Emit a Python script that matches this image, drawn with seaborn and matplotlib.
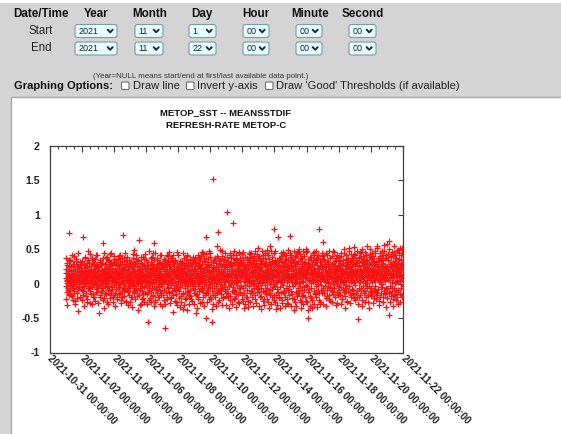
import numpy as np
import pandas as pd
import matplotlib
matplotlib.use("Agg")
import matplotlib.pyplot as plt
import matplotlib.dates as mdates
from matplotlib.patches import Rectangle, FancyBboxPatch
import seaborn as sns

# ---------------- data (values in hundredths, one list per day, two passes) ----------------
first_day = "2021-11-01"
x_start = "2021-10-31"
x_end = "2021-11-22"
y_ticks = [-1, -0.5, 0, 0.5, 1, 1.5, 2]
y_tick_labels = ["-1", "-0.5", "0", "0.5", "1", "1.5", "2"]

d00 = [8, -3, 15, 22, 1, -12, 30, 5, 11, -7, 18, 73, 2, 26, -15, 9, 4, 35, -9, 13, 20, -2, 7, 41, -18, 12, 3, 25, -6, 16, 0, 10, 28, -11, 6, 19, -25, 14, 2, 33, -4, 8, 21, -14, 11, 45, 5, -8, -40, 17, 24, -1, 9, 31, -20, 13, 4, 27, -5, 15]
d01 = [5, 12, -9, 20, 68, 3, -16, 27, 10, -4, 14, 38, -1, 7, 23, -13, 18, 2, 9, -22, 30, 6, 15, -7, 11, 47, -3, 19, 1, 25, -10, 8, 16, -28, 4, 21, 13, -5, 34, 0, 10, 17, -15, 6, 29, 12, -2, 22, -19, 9, 3, 36, -8, 14, 26, 1, -12, 18, 7, 42]
d02 = [11, -6, 19, -43, 8, 24, -2, 13, 31, -17, 5, 16, 0, 27, -10, 9, 20, 3, 59, -7, 14, 37, -21, 6, 12, 22, -4, 17, 2, -14, 28, 10, -1, 39, 7, 15, -26, 21, 4, 11, -9, 33, 18, -3, 8, 25, -16, 13, 1, 44, -11, 19, 6, 23, -5, 10, 30, -19, 15, 3]
d03 = [-2, 16, 9, 28, -13, 4, 21, 12, -8, 35, 1, 18, -20, 7, 26, 14, -5, 10, 40, -15, 3, 23, 11, -1, 17, 32, -24, 8, 19, 2, -10, 13, 29, 71, -6, 6, 22, -18, 15, 0, 38, 9, -3, 20, 5, -27, 12, 27, -9, 4, 16, 34, -12, 7, 24, -4, 11, 18, -16, 2]
d04 = [14, -7, 25, 3, 10, -19, 31, 8, 17, -2, 22, 5, -11, 43, 12, -4, 19, 0, 28, -23, 9, 15, 36, -8, 6, 20, -14, 2, 26, 11, -1, 33, 7, 63, -17, 13, 24, -6, 4, 18, -29, 10, 30, 1, -10, 21, 14, -3, 39, 5, 16, -21, 8, 27, -5, 12, 2, 23, -13, 9]
d05 = [6, 19, -4, 27, 11, -15, -55, 13, 2, 32, -9, 17, 8, -24, 23, 4, 14, -1, 37, 10, -12, 20, 1, 29, -6, 15, 45, -18, 7, 24, 12, -3, 59, 5, 18, -27, 9, 26, -8, 3, 16, 34, -14, 11, 21, 0, -20, 13, 30, 6, -5, 19, 41, -10, 8, 25, 2, -16, 14, 4]
d06 = [10, -3, 21, 7, 30, -17, 13, 3, 24, -9, -65, 16, 5, 35, -12, 9, 19, -1, 27, 11, -22, 14, 2, 40, -6, 18, 8, -14, 25, 4, 12, 31, -19, 6, 22, -2, 15, 38, -11, 1, -41, 17, 28, 7, -7, 20, 10, -25, 33, 3, 14, -4, 23, 9, -15, 18, 46, 0, 12, -8]
d07 = [17, 4, -10, 26, 9, 14, -5, 33, 2, 20, -18, 11, 6, 29, -2, 15, 23, -37, 8, 12, -13, 37, 1, 19, 5, -7, 24, 13, -21, 10, 30, 3, -4, 16, 42, -12, 7, 21, 0, 27, -16, 11, 18, -1, 9, 35, -9, 4, 25, 14, -23, 6, 20, 2, 31, -6, 13, 8, -14, 22]
d08 = [3, 18, -8, 25, 12, -1, -42, 9, 30, -15, 16, 6, 22, -4, 14, 39, -20, 7, 27, 1, -10, 19, 11, 34, -6, 4, 23, 15, -26, 10, 28, 2, -12, 17, 44, 8, -3, 21, 13, -17, 5, 32, 9, 68, -50, 20, 0, 26, -9, 12, 36, -13, 7, 18, 3, -22, 24, 10, -2, 15]
d09 = [12, -5, 20, 8, 27, -11, -56, 15, 4, 31, 152, -16, 10, 23, 1, -7, 18, 37, 6, -20, 13, 26, -3, 9, 40, -13, 16, 2, 75, 21, -9, 11, 29, 5, -24, 14, 33, -1, 8, 19, -15, 24, 3, 12, 47, -6, 17, 7, -19, 28, 10, -2, 22, 35, -10, 14, 4, 25, -14, 9]
d10 = [7, 104, 16, -8, 24, 11, 2, 33, -14, 19, 5, 27, -3, 13, 42, -18, 9, 21, 0, 30, -11, 15, 6, 25, 88, -5, 18, 38, -22, 10, 3, 28, 14, -9, 20, 1, 36, -15, 12, 23, -2, 8, 31, -26, 17, 5, 44, -7, 13, 26, -12, 19, 4, 34, -4, 11, 22, -17, 15, 29]
d11 = [9, 21, -6, 14, 32, -13, 4, 26, 11, -2, 18, 39, -19, 7, 23, 13, -9, 29, 2, 16, -25, 10, 35, 5, -4, 20, 12, 43, -14, 8, 27, -1, 17, 3, 31, -10, 15, 24, -20, 6, 38, 11, -7, 19, 1, 28, -16, 13, 22, 48, -3, 9, 30, -12, 17, 4, 25, -8, 14, 52]
d12 = [-4, 15, 27, 8, -12, 22, 3, 34, -7, 12, 19, -18, 10, 30, 1, 24, -10, 16, 41, 6, -22, 13, 28, -2, 9, 20, 37, -15, 5, 17, 11, -6, 26, 2, 45, -27, 14, 23, 7, -9, 31, 12, -1, 18, 54, -13, 8, 25, 3, -20, 16, 33, 10, -5, 21, 6, 29, -16, 13, 0]
d13 = [80, 11, -3, 24, 14, -16, 30, 6, 19, -8, 35, 2, 68, -12, 17, 9, 27, -21, 12, 4, 38, -5, 21, 15, -14, 7, 32, 1, 18, -24, 10, 26, -2, 13, 43, -10, 5, 22, 16, -19, 28, 8, -6, 34, 12, -28, 20, 3, 25, -11, 15, 49, 6, -4, 23, 11, -17, 69, 9, 31]
d14 = [5, 18, -10, 27, 11, 2, 36, -15, 14, 22, -4, 9, 31, -22, 16, 6, 25, -1, 13, 40, -12, 8, 20, 3, -18, 29, 12, -7, 17, 46, 1, 23, -13, 10, 33, -3, 15, 7, -26, 21, 14, 38, -9, 4, 26, 11, -16, 19, 2, 30, -5, 13, 24, -20, 8, 17, 51, -2, 10, 28]
d15 = [14, -3, 22, 8, 30, -12, -50, 17, 5, 26, -8, 12, 39, -18, 10, 20, 1, 34, -6, 15, 9, -24, 28, 3, 18, 44, -11, 7, 23, 13, -15, 31, 2, 19, -4, 11, 36, -20, 16, 6, 27, -9, 12, 41, 0, 79, 21, -14, 9, 25, 4, -27, 17, 32, -2, 14, 8, -13, 24, 11]
d16 = [60, 13, -7, 21, 10, 35, -14, 6, 18, 28, -3, 12, -21, 24, 4, 16, 42, -9, 9, 20, 1, 31, -17, 14, 7, 26, -5, 11, 38, -25, 17, 3, 23, 13, -10, 29, 8, -1, 19, 47, -15, 5, 25, 12, -6, 33, 15, -19, 10, 22, 2, 37, -12, 18, 6, -28, 27, 11, -4, 20]
d17 = [8, 24, -9, 15, 33, 3, -16, 20, 11, 40, -5, 13, 27, -22, 7, 18, 1, 30, -12, 16, 10, 45, -7, 22, 4, -18, 26, 14, 36, -2, 9, 19, -26, 12, 29, 5, -10, 23, 15, 52, -4, 8, 21, -14, 17, 31, 2, -20, 25, 11, 38, -8, 14, 6, 28, -15, 19, 3, 43, 10]
d18 = [16, -2, 25, 9, 34, -13, 12, 21, 5, -20, 30, 14, -52, 18, 39, -7, 10, 27, 3, -16, 22, 13, 46, -9, 7, 19, 31, -24, 15, 4, 26, -4, 11, 36, -14, 20, 8, 29, -11, 17, 1, 41, -19, 12, 24, 6, -6, 33, 15, -27, 21, 9, 28, -3, 13, 50, -10, 18, 5, 23]
d19 = [11, 27, -6, 17, 38, 2, -15, 22, 13, 31, -9, 8, 19, -21, 25, 5, 44, -3, 14, 29, -12, 10, 20, 55, -17, 7, 24, 16, -8, 33, 3, 21, -25, 12, 40, 6, -5, 18, 28, -13, 9, 35, 15, -1, 23, -19, 11, 30, 48, -10, 16, 4, 26, -14, 20, 37, 8, -7, 14, 58]
d20 = [13, 24, -8, 19, 35, 6, 62, -14, -46, 21, 10, 29, -4, 16, 40, -18, 12, 26, 3, -11, 22, 31, -22, 8, 18, 45, -6, 14, 27, 1, -15, 33, 11, 20, -9, 38, 5, 24, -20, 15, 49, 2, 28, -12, 17, 9, 36, -26, 13, 23, 4, 42, -7, 19, 30, -16, 11, 26, 52, -3]

e00 = [-22, 38, 4, -31, 27, 14, -9, 34, 19, -16, 6, 33, -17, 24, 0, -4, 12, -24, 29, 9, 40, -13, 21, -29, 16, 3, 36, -21, 11, 25, -8, 26, -5, 18, 7, 31, -19, 2, 1, 23]
e01 = [33, -24, 17, 6, -11, 28, -33, 9, 39, 2, -18, 24, 13, -27, 13, 35, -6, 20, -7, 30, 5, 43, -15, 26, 11, -30, 37, 15, -20, 19, 0, 32, -25, 22, 8, 41, -12, 27, -2, 18]
e02 = [-28, 26, 4, 7, -19, 35, 13, -3, 18, 20, -10, 30, -24, 4, 45, 17, -36, 28, 9, 38, -15, 23, 12, -5, 14, -30, 34, 1, 25, -21, 43, 11, -13, 31, -8, 19, 27, 6, -26, 36]
e03 = [40, -17, 22, -32, 31, 8, 17, -23, 15, 36, -8, 27, -5, 12, 42, -14, 29, 3, -28, 38, 18, -20, 10, 6, 33, -11, 24, -7, 45, 10, 28, -25, 16, 39, -4, 21, -31, 34, 13, 1]
e04 = [-26, 30, 12, 5, -20, 24, -34, 37, 5, 28, -13, 49, 19, -9, 33, 2, 41, -18, 26, 14, -38, 35, 8, 16, -9, 22, -31, 39, 17, -22, 29, 3, -15, 11, 36, -27, 25, 4, 43, -3]
e05 = [35, -30, 18, 2, -12, 27, 9, -6, 47, 22, -21, 31, 14, -27, 39, 3, 20, -16, 25, -33, 34, 11, -24, 44, 19, -9, 28, -8, 37, 6, 23, -19, 8, 15, -29, 32, 1, 41, -14, 26]
e06 = [-33, 27, 4, 10, -24, 36, 18, -30, 29, 5, 29, -19, 41, 22, -5, 33, 13, -12, 46, 25, -28, 38, 8, -21, 31, 3, -16, 20, 42, -7, 26, 15, -9, 35, -26, 17, 11, 30, -31, 21]
e07 = [41, -21, 29, 13, -34, 8, 21, -27, 30, 7, 32, -15, 44, 18, -31, 27, 4, 17, -23, 35, 12, -38, 40, 24, -11, 30, -29, 5, 16, 36, -18, 9, 22, -25, 28, 1, -3, 39, 20, 34]
e08 = [-30, 37, 19, 8, -16, 31, 6, -35, 42, 25, -22, 35, 11, 3, -28, 22, 40, -9, 29, -8, 46, 15, -19, 38, 3, -32, 33, 10, -13, 24, 43, -26, 17, 36, -6, 28, 9, 47, -20, 39]
e09 = [44, -23, 32, 16, -37, 1, 24, -29, 21, 10, 35, -17, 6, 21, -33, 30, 55, -12, 38, 5, -26, 13, 19, -9, 34, 49, -8, 27, -31, 40, 13, -21, 18, 26, -5, 36, 2, 45, -18, 31]
e10 = [-31, 39, 22, 10, -19, 33, 9, -36, 45, 28, -24, 37, 14, 6, -30, 25, 42, -11, 31, -10, 48, 18, -21, 41, 6, -34, 35, 3, -15, 27, 46, -28, 20, 38, -7, 30, 12, 19, -22, 43]
e11 = [46, -25, 34, 18, -36, 2, 26, -30, 13, 12, 37, -19, 8, 23, -34, 32, 4, 44, -27, 39, 15, -11, 45, 29, -13, 35, -32, 0, 20, 40, -22, 10, 25, -28, 33, 7, -7, 43, 24, 38]
e12 = [-32, 40, 23, 1, -20, 34, 11, -37, 47, 29, -25, 38, 16, 7, -31, 27, 44, -12, 32, -9, 49, 19, -23, 42, 8, -35, 36, 14, -17, 28, 47, -29, 21, 39, -8, 31, 14, 20, -24, 45]
e13 = [47, -26, 35, 19, -37, 3, 27, -31, 24, 13, 38, -20, 9, 24, -35, 33, 5, 45, -28, 40, 16, -12, 46, 30, -14, 36, -33, 11, 21, 41, -23, 11, 26, -29, 34, 8, -8, 44, 25, 39]
e14 = [-33, 41, 24, 2, -21, 35, 12, -38, 48, 30, -26, 39, 17, 8, -32, 28, 45, -13, 33, -10, 50, 20, -24, 43, 9, -36, 37, 15, -18, 29, 48, -30, 22, 40, -9, 32, 15, 21, -25, 46]
e15 = [48, -27, 36, 20, -38, 4, 28, -32, 25, 14, 39, -21, 10, 25, -36, 34, 6, 46, -29, 41, 17, -13, 47, 31, -15, 37, -34, 12, 22, 42, -24, 12, 27, -30, 35, 9, -9, 45, 26, 40]
e16 = [-29, 36, 7, 41, -14, 25, 3, -33, 44, 19, -18, 32, 12, -4, 28, 48, -23, 15, 37, -7, 22, 9, -27, 40, 2, 30, -12, 17, 46, -20, 26, 5, 35, -31, 13, 42, -1, 23, -16, 33]
e17 = [39, -15, 28, 11, -30, 45, 6, 21, -22, 34, 16, -8, 50, 2, 27, -35, 19, 41, -11, 31, 8, -25, 37, 14, 47, -4, 24, -28, 33, 10, 43, -17, 20, 4, 38, -9, 29, 53, -21, 15]
e18 = [-24, 42, 17, 31, -10, 26, 48, -29, 12, 37, 3, -19, 44, 22, -6, 33, 9, 51, -32, 25, 15, 40, -14, 28, 1, 46, -26, 19, 35, -3, 23, 54, -17, 11, 39, -36, 30, 6, 43, -12]
e19 = [36, -18, 44, 12, 27, -28, 40, 5, 33, -9, 48, 20, -23, 31, 14, 52, -13, 25, 38, -31, 18, 45, 2, -20, 35, 10, 47, -5, 29, 41, -26, 16, 56, 7, -15, 37, 24, -34, 42, 21]
e20 = [-21, 43, 19, 35, -12, 50, 8, 29, -27, 39, 14, -6, 46, 24, -33, 32, 11, 54, -17, 26, 41, 3, -24, 37, 18, 48, -9, 30, -30, 44, 13, 22, -15, 52, 6, 34, -19, 27, 45, -2]

pass_a = [d00, d01, d02, d03, d04, d05, d06, d07, d08, d09, d10,
          d11, d12, d13, d14, d15, d16, d17, d18, d19, d20]
pass_b = [e00, e01, e02, e03, e04, e05, e06, e07, e08, e09, e10,
          e11, e12, e13, e14, e15, e16, e17, e18, e19, e20]

# form contents
headers = ["Date/Time", "Year", "Month", "Day", "Hour", "Minute", "Second"]
start_vals = ["2021", "11", "1", "00", "00", "00"]
end_vals = ["2021", "11", "22", "00", "00", "00"]
options = ["Draw line", "Invert y-axis", "Draw 'Good' Thresholds (if available)"]
note = "(Year=NULL means start/end at first/last available data point.)"
title1 = "METOP_SST -- MEANSSTDIF"
title2 = "REFRESH-RATE METOP-C"

# ---------------- build table ----------------
rows = []
base = pd.Timestamp(first_day)
for offset, passes in ((0.0, pass_a), (0.5, pass_b)):
    for di, vals in enumerate(passes):
        n = len(vals)
        for k, v in enumerate(vals):
            t = base + pd.Timedelta(days=di) + pd.Timedelta(minutes=1440 * (k + offset) / n)
            rows.append((t, v / 100.0))
df = pd.DataFrame(rows, columns=["time", "value"]).sort_values("time")

# ---------------- figure ----------------
sns.set_style("white")
plt.rcParams["font.family"] = ["Liberation Sans", "DejaVu Sans"]

W, H = 561, 434
fig = plt.figure(figsize=(W / 100, H / 100), dpi=100)
fig.patch.set_facecolor("#d4d4d4")

ui = fig.add_axes([0, 0, 1, 1])
ui.set_xlim(0, W)
ui.set_ylim(H, 0)
ui.axis("off")
ui.set_zorder(0)

# page background pieces
ui.add_patch(Rectangle((0, 0), W, 2.5, fc="white", ec="none"))
ui.add_patch(Rectangle((11.5, 97), W, H, fc="white", ec="#a8a8a8", lw=1.0))

hdr_x = [41, 96, 149.5, 202, 256, 310, 363]
for hx, h in zip(hdr_x, headers):
    ui.text(hx, 14, h, ha="center", va="center", fontsize=8.4, fontweight="bold", color="#111")
ui.text(41, 31, "Start", ha="center", va="center", fontsize=8.3, color="#222")
ui.text(41, 48, "End", ha="center", va="center", fontsize=8.3, color="#222")

box_x = [(75, 117), (135, 163), (189, 216), (243, 269), (296, 322), (349, 376)]
row_y = [(24.5, 37.5), (42, 55)]
for (y0, y1), vals in zip(row_y, [start_vals, end_vals]):
    for (x0, x1), v in zip(box_x, vals):
        ui.add_patch(FancyBboxPatch((x0, y0), x1 - x0, y1 - y0,
                                    boxstyle="round,pad=0,rounding_size=2.5",
                                    fc="#e6ffff", ec="#7f97a8", lw=0.8))
        ui.text(x0 + 3.5, (y0 + y1) / 2 + 0.3, v, ha="left", va="center",
                fontsize=6.5, color="#222")
        cx = x1 - 6.8
        cy = (y0 + y1) / 2
        ui.plot([cx - 2.5, cx, cx + 2.5], [cy - 1.3, cy + 1.3, cy - 1.3],
                color="#1c2a3a", lw=1.4, solid_capstyle="round", solid_joinstyle="round")

ui.text(200.5, 76, note, ha="center", va="center", fontsize=5.7, color="#333")
ui.text(13.6, 86, "Graphing Options:", ha="left", va="center", fontsize=8.0,
        fontweight="bold", color="#111")
cb_x = [121.5, 186.5, 265.5]
txt_x = [133, 197, 276]
for bx, tx, o in zip(cb_x, txt_x, options):
    ui.add_patch(FancyBboxPatch((bx, 82), 7.5, 7.5, boxstyle="round,pad=0,rounding_size=1.2",
                                fc="white", ec="#707070", lw=0.8))
    ui.text(tx, 86, o, ha="left", va="center", fontsize=8.1, color="#222")

# chart title
ui.text(226, 113, title1, ha="center", va="center", fontsize=6.8, fontweight="bold", color="#111")
ui.text(226, 126, title2, ha="center", va="center", fontsize=6.8, fontweight="bold", color="#111")

# ---------------- chart ----------------
L, R, T, B = 49.5, 403, 146, 352.5
ax = fig.add_axes([L / W, 1 - B / H, (R - L) / W, (B - T) / H])
ax.set_zorder(2)
ax.patch.set_alpha(0)

sns.scatterplot(data=df, x="time", y="value", marker="+", s=15, color="#ff1010",
                linewidth=0.9, ax=ax, legend=False, zorder=3)

ax.set_xlim(pd.Timestamp(x_start), pd.Timestamp(x_end))
ax.set_ylim(-1, 2)
ax.set_xlabel("")
ax.set_ylabel("")

major = pd.date_range(x_start, x_end, freq="2D")
minor = pd.date_range(x_start, x_end, freq="12h")
ax.set_xticks(major)
ax.set_xticks(minor, minor=True)
ax.xaxis.set_major_formatter(mdates.DateFormatter("%Y-%m-%d %H:%M:%S"))
ax.set_yticks(y_ticks)
ax.set_yticklabels(y_tick_labels)

for s in ax.spines.values():
    s.set_color("#404040")
    s.set_linewidth(0.9)
    s.set_visible(True)

ax.tick_params(axis="both", which="both", direction="in", top=True, right=True,
               color="#404040", width=0.8)
ax.tick_params(axis="x", which="major", length=4, pad=3)
ax.tick_params(axis="x", which="minor", length=2)
ax.tick_params(axis="y", which="major", length=3.5, pad=7)

for lab in ax.get_yticklabels():
    lab.set_fontsize(7.6)
    lab.set_fontweight("bold")
    lab.set_color("#222")
for lab in ax.get_xticklabels():
    lab.set_fontsize(7.1)
    lab.set_fontweight("bold")
    lab.set_color("#222")
    lab.set_rotation(-45)
    lab.set_rotation_mode("anchor")
    lab.set_ha("left")
    lab.set_va("center")

fig.savefig("out.png", dpi=100)
